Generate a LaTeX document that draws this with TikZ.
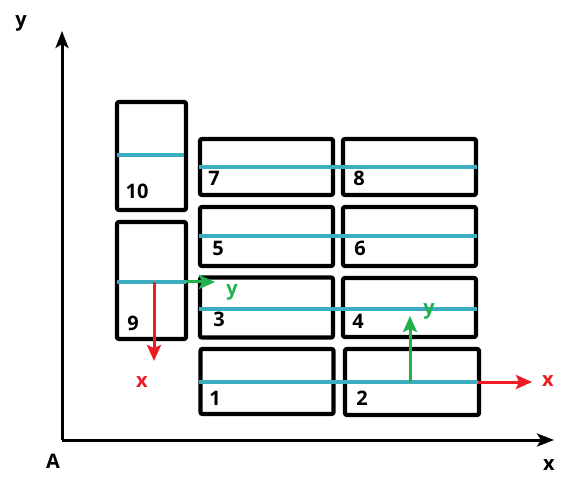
\documentclass[tikz,border=0pt]{standalone}
\usepackage{fontspec}
\setmainfont{Open Sans}
\usetikzlibrary{arrows.meta}
\definecolor{teal1}{HTML}{3AAEBE}
\definecolor{grn}{HTML}{22B14C}
\definecolor{rd}{HTML}{ED1C24}
\tikzset{
  box/.style={draw=black, line width=4.2pt, rounded corners=2pt, inner sep=0pt},
  seam/.style={draw=teal1, line width=3.2pt},
  lbl/.style={font=\fontsize{20}{20}\selectfont\bfseries, inner sep=0pt},
  axis/.style={draw=black, line width=3pt, -{Stealth[length=17pt,width=13pt,inset=4pt]}},
  redarr/.style={draw=rd, line width=3pt, -{Stealth[length=16pt,width=14pt,inset=3pt]}},
  grnarr/.style={draw=grn, line width=3pt, -{Stealth[length=16pt,width=14pt,inset=3pt]}},
}
\begin{document}
\begin{tikzpicture}[x=1pt,y=-1pt]
\useasboundingbox (0,0) rectangle (582,484);
% axes
\coordinate (O) at (62,440);
\coordinate (Ytip) at (62,31);
\coordinate (Xtip) at (554,440);
\draw[axis] (O) -- (Ytip);
\draw[axis] (O) -- (Xtip);
\node[lbl] (ly) at (21,23) {y};
\node[lbl] (lA) at (53,461) {A};
\node[lbl] (lx) at (549,465) {x};
% boxes
\node[box, minimum width=69pt, minimum height=108pt] (b10) at (151.5,156) {};
\node[box, minimum width=69pt, minimum height=117pt] (b9) at (151.5,280.5) {};
\node[box, minimum width=133pt, minimum height=56pt] (b7) at (266.5,167) {};
\node[box, minimum width=133pt, minimum height=56pt] (b8) at (409.5,167) {};
\node[box, minimum width=133pt, minimum height=59pt] (b5) at (266.5,236.5) {};
\node[box, minimum width=133pt, minimum height=59pt] (b6) at (409.5,236.5) {};
\node[box, minimum width=133pt, minimum height=60pt] (b3) at (266.5,307.5) {};
\node[box, minimum width=133pt, minimum height=59pt] (b4) at (409.5,307.5) {};
\node[box, minimum width=133pt, minimum height=65pt] (b1) at (267,381.5) {};
\node[box, minimum width=134pt, minimum height=66pt] (b2) at (412,382) {};
% seams
\coordinate (s10a) at (117,155); \coordinate (s10b) at (184,155);
\coordinate (s9a) at (117,282); \coordinate (s9b) at (186,282);
\coordinate (s78a) at (199,167); \coordinate (s78b) at (477,167);
\coordinate (s56a) at (199,236); \coordinate (s56b) at (477,236);
\coordinate (s34a) at (199,309); \coordinate (s34b) at (477,309);
\coordinate (s12a) at (199,382); \coordinate (s12b) at (478,382);
\draw[seam] (s10a) -- (s10b);
\draw[seam] (s9a) -- (s9b);
\draw[seam] (s78a) -- (s78b);
\draw[seam] (s56a) -- (s56b);
\draw[seam] (s34a) -- (s34b);
\draw[seam] (s12a) -- (s12b);
% labels
\node[lbl] (n10) at (137,191) {10};
\node[lbl] (n9) at (133,323) {9};
\node[lbl] (n7) at (214,178) {7};
\node[lbl] (n8) at (359,178) {8};
\node[lbl] (n5) at (218,248) {5};
\node[lbl] (n6) at (360,248) {6};
\node[lbl] (n3) at (219,319) {3};
\node[lbl] (n4) at (358,321) {4};
\node[lbl] (n1) at (215,398) {1};
\node[lbl] (n2) at (362,398) {2};
% local frames
\coordinate (g1) at (154,282);
\coordinate (g1y) at (215,282);
\coordinate (g1x) at (154,361);
\draw[grnarr] (s9b) -- (g1y);
\draw[redarr] (g1) -- (g1x);
\node[lbl, text=grn] (gy1) at (232,292) {y};
\node[lbl, text=rd] (rx1) at (142,382) {x};
\coordinate (g2) at (410,382);
\coordinate (g2y) at (410,316);
\coordinate (g2x) at (532,382);
\draw[grnarr] (g2) -- (g2y);
\draw[redarr] (s12b) -- (g2x);
\node[lbl, text=grn] (gy2) at (429,311) {y};
\node[lbl, text=rd] (rx2) at (548,381) {x};
\end{tikzpicture}
\end{document}
